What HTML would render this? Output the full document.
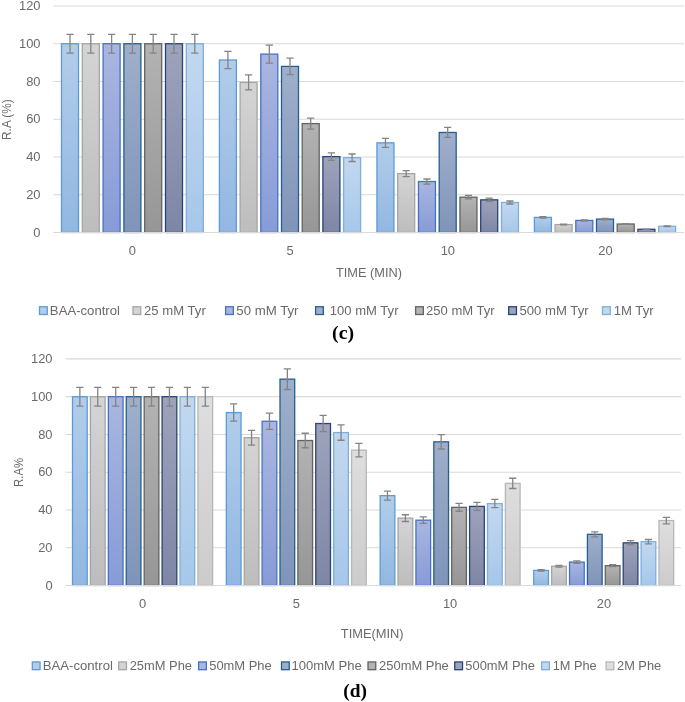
<!DOCTYPE html><html><head><meta charset="utf-8"><title>chart</title><style>html,body{margin:0;padding:0;background:#fff}svg{display:block}text{font-family:'Liberation Sans', sans-serif;fill:#6a6a6a}</style></head><body>
<svg width="685" height="702" viewBox="0 0 685 702">
<defs><filter id="sf" x="0" y="0" width="685" height="702" filterUnits="userSpaceOnUse"><feGaussianBlur stdDeviation="0.4"/></filter></defs>
<rect width="685" height="702" fill="#fff"/>
<g filter="url(#sf)">
<rect width="685" height="702" fill="#fff"/>
<defs>
<linearGradient id="ag0" x1="0" y1="0" x2="0" y2="1"><stop offset="0" stop-color="#b2cdea"/><stop offset="1" stop-color="#92b7e2"/></linearGradient>
<linearGradient id="ag1" x1="0" y1="0" x2="0" y2="1"><stop offset="0" stop-color="#d4d4d4"/><stop offset="1" stop-color="#bdbdbd"/></linearGradient>
<linearGradient id="ag2" x1="0" y1="0" x2="0" y2="1"><stop offset="0" stop-color="#aab6e0"/><stop offset="1" stop-color="#879bd7"/></linearGradient>
<linearGradient id="ag3" x1="0" y1="0" x2="0" y2="1"><stop offset="0" stop-color="#9fafcb"/><stop offset="1" stop-color="#7f94b9"/></linearGradient>
<linearGradient id="ag4" x1="0" y1="0" x2="0" y2="1"><stop offset="0" stop-color="#b3b3b3"/><stop offset="1" stop-color="#969696"/></linearGradient>
<linearGradient id="ag5" x1="0" y1="0" x2="0" y2="1"><stop offset="0" stop-color="#9ea3bb"/><stop offset="1" stop-color="#7e86a6"/></linearGradient>
<linearGradient id="ag6" x1="0" y1="0" x2="0" y2="1"><stop offset="0" stop-color="#c3d8ef"/><stop offset="1" stop-color="#a6c7ea"/></linearGradient>
</defs>
<line x1="53.5" y1="232.50" x2="684.0" y2="232.50" stroke="#d9d9d9" stroke-width="1.2"/>
<line x1="53.5" y1="194.75" x2="684.0" y2="194.75" stroke="#d9d9d9" stroke-width="1.2"/>
<line x1="53.5" y1="157.00" x2="684.0" y2="157.00" stroke="#d9d9d9" stroke-width="1.2"/>
<line x1="53.5" y1="119.25" x2="684.0" y2="119.25" stroke="#d9d9d9" stroke-width="1.2"/>
<line x1="53.5" y1="81.50" x2="684.0" y2="81.50" stroke="#d9d9d9" stroke-width="1.2"/>
<line x1="53.5" y1="43.75" x2="684.0" y2="43.75" stroke="#d9d9d9" stroke-width="1.2"/>
<line x1="53.5" y1="6.00" x2="684.0" y2="6.00" stroke="#d9d9d9" stroke-width="1.2"/>
<rect x="61.50" y="43.75" width="17.00" height="188.75" fill="url(#ag0)" stroke="#5b9bd5" stroke-width="1.3"/>
<rect x="82.30" y="43.75" width="17.00" height="188.75" fill="url(#ag1)" stroke="#a5a5a5" stroke-width="1.3"/>
<rect x="103.10" y="43.75" width="17.00" height="188.75" fill="url(#ag2)" stroke="#4472c4" stroke-width="1.3"/>
<rect x="123.90" y="43.75" width="17.00" height="188.75" fill="url(#ag3)" stroke="#255e91" stroke-width="1.3"/>
<rect x="144.70" y="43.75" width="17.00" height="188.75" fill="url(#ag4)" stroke="#636363" stroke-width="1.3"/>
<rect x="165.50" y="43.75" width="17.00" height="188.75" fill="url(#ag5)" stroke="#264478" stroke-width="1.3"/>
<rect x="186.30" y="43.75" width="17.00" height="188.75" fill="url(#ag6)" stroke="#7cafdd" stroke-width="1.3"/>
<rect x="219.40" y="59.98" width="17.00" height="172.52" fill="url(#ag0)" stroke="#5b9bd5" stroke-width="1.3"/>
<rect x="240.10" y="82.44" width="17.00" height="150.06" fill="url(#ag1)" stroke="#a5a5a5" stroke-width="1.3"/>
<rect x="260.80" y="54.13" width="17.00" height="178.37" fill="url(#ag2)" stroke="#4472c4" stroke-width="1.3"/>
<rect x="281.50" y="66.40" width="17.00" height="166.10" fill="url(#ag3)" stroke="#255e91" stroke-width="1.3"/>
<rect x="302.20" y="123.59" width="17.00" height="108.91" fill="url(#ag4)" stroke="#636363" stroke-width="1.3"/>
<rect x="322.90" y="156.62" width="17.00" height="75.88" fill="url(#ag5)" stroke="#264478" stroke-width="1.3"/>
<rect x="343.60" y="157.75" width="17.00" height="74.75" fill="url(#ag6)" stroke="#7cafdd" stroke-width="1.3"/>
<rect x="376.95" y="142.84" width="17.00" height="89.66" fill="url(#ag0)" stroke="#5b9bd5" stroke-width="1.3"/>
<rect x="397.70" y="173.61" width="17.00" height="58.89" fill="url(#ag1)" stroke="#a5a5a5" stroke-width="1.3"/>
<rect x="418.45" y="181.54" width="17.00" height="50.96" fill="url(#ag2)" stroke="#4472c4" stroke-width="1.3"/>
<rect x="439.20" y="132.46" width="17.00" height="100.04" fill="url(#ag3)" stroke="#255e91" stroke-width="1.3"/>
<rect x="459.95" y="197.20" width="17.00" height="35.30" fill="url(#ag4)" stroke="#636363" stroke-width="1.3"/>
<rect x="480.70" y="199.85" width="17.00" height="32.65" fill="url(#ag5)" stroke="#264478" stroke-width="1.3"/>
<rect x="501.45" y="202.49" width="17.00" height="30.01" fill="url(#ag6)" stroke="#7cafdd" stroke-width="1.3"/>
<rect x="534.40" y="217.40" width="17.00" height="15.10" fill="url(#ag0)" stroke="#5b9bd5" stroke-width="1.3"/>
<rect x="555.10" y="224.57" width="17.00" height="7.93" fill="url(#ag1)" stroke="#a5a5a5" stroke-width="1.3"/>
<rect x="575.80" y="220.42" width="17.00" height="12.08" fill="url(#ag2)" stroke="#4472c4" stroke-width="1.3"/>
<rect x="596.50" y="219.10" width="17.00" height="13.40" fill="url(#ag3)" stroke="#255e91" stroke-width="1.3"/>
<rect x="617.20" y="224.01" width="17.00" height="8.49" fill="url(#ag4)" stroke="#636363" stroke-width="1.3"/>
<rect x="637.90" y="229.29" width="17.00" height="3.21" fill="url(#ag5)" stroke="#264478" stroke-width="1.3"/>
<rect x="658.60" y="226.27" width="17.00" height="6.23" fill="url(#ag6)" stroke="#7cafdd" stroke-width="1.3"/>
<line x1="53.5" y1="232.50" x2="684.0" y2="232.50" stroke="#d9d9d9" stroke-width="1.2"/>
<path d="M66.40 34.31H73.60M70.00 34.31V53.19M66.40 53.19H73.60" stroke="#848484" stroke-width="1.3" fill="none"/>
<path d="M87.20 34.31H94.40M90.80 34.31V53.19M87.20 53.19H94.40" stroke="#848484" stroke-width="1.3" fill="none"/>
<path d="M108.00 34.31H115.20M111.60 34.31V53.19M108.00 53.19H115.20" stroke="#848484" stroke-width="1.3" fill="none"/>
<path d="M128.80 34.31H136.00M132.40 34.31V53.19M128.80 53.19H136.00" stroke="#848484" stroke-width="1.3" fill="none"/>
<path d="M149.60 34.31H156.80M153.20 34.31V53.19M149.60 53.19H156.80" stroke="#848484" stroke-width="1.3" fill="none"/>
<path d="M170.40 34.31H177.60M174.00 34.31V53.19M170.40 53.19H177.60" stroke="#848484" stroke-width="1.3" fill="none"/>
<path d="M191.20 34.31H198.40M194.80 34.31V53.19M191.20 53.19H198.40" stroke="#848484" stroke-width="1.3" fill="none"/>
<path d="M224.30 51.36H231.50M227.90 51.36V68.61M224.30 68.61H231.50" stroke="#848484" stroke-width="1.3" fill="none"/>
<path d="M245.00 74.94H252.20M248.60 74.94V89.95M245.00 89.95H252.20" stroke="#848484" stroke-width="1.3" fill="none"/>
<path d="M265.70 45.21H272.90M269.30 45.21V63.05M265.70 63.05H272.90" stroke="#848484" stroke-width="1.3" fill="none"/>
<path d="M286.40 58.10H293.60M290.00 58.10V74.71M286.40 74.71H293.60" stroke="#848484" stroke-width="1.3" fill="none"/>
<path d="M307.10 118.15H314.30M310.70 118.15V129.04M307.10 129.04H314.30" stroke="#848484" stroke-width="1.3" fill="none"/>
<path d="M327.80 152.83H335.00M331.40 152.83V160.42M327.80 160.42H335.00" stroke="#848484" stroke-width="1.3" fill="none"/>
<path d="M348.50 154.02H355.70M352.10 154.02V161.49M348.50 161.49H355.70" stroke="#848484" stroke-width="1.3" fill="none"/>
<path d="M381.85 138.36H389.05M385.45 138.36V147.33M381.85 147.33H389.05" stroke="#848484" stroke-width="1.3" fill="none"/>
<path d="M402.60 170.67H409.80M406.20 170.67V176.55M402.60 176.55H409.80" stroke="#848484" stroke-width="1.3" fill="none"/>
<path d="M423.35 178.99H430.55M426.95 178.99V184.09M423.35 184.09H430.55" stroke="#848484" stroke-width="1.3" fill="none"/>
<path d="M444.10 127.46H451.30M447.70 127.46V137.46M444.10 137.46H451.30" stroke="#848484" stroke-width="1.3" fill="none"/>
<path d="M464.85 195.44H472.05M468.45 195.44V198.97M464.85 198.97H472.05" stroke="#848484" stroke-width="1.3" fill="none"/>
<path d="M485.60 198.21H492.80M489.20 198.21V201.48M485.60 201.48H492.80" stroke="#848484" stroke-width="1.3" fill="none"/>
<path d="M506.35 200.99H513.55M509.95 200.99V203.99M506.35 203.99H513.55" stroke="#848484" stroke-width="1.3" fill="none"/>
<path d="M539.30 216.65H546.50M542.90 216.65V218.16M539.30 218.16H546.50" stroke="#848484" stroke-width="1.3" fill="none"/>
<path d="M560.00 224.18H567.20M563.60 224.18V224.97M560.00 224.97H567.20" stroke="#848484" stroke-width="1.3" fill="none"/>
<path d="M580.70 219.82H587.90M584.30 219.82V221.02M580.70 221.02H587.90" stroke="#848484" stroke-width="1.3" fill="none"/>
<path d="M601.40 218.43H608.60M605.00 218.43V219.77M601.40 219.77H608.60" stroke="#848484" stroke-width="1.3" fill="none"/>
<path d="M622.10 223.58H629.30M625.70 223.58V224.43M622.10 224.43H629.30" stroke="#848484" stroke-width="1.3" fill="none"/>
<path d="M642.80 229.13H650.00M646.40 229.13V229.45M642.80 229.45H650.00" stroke="#848484" stroke-width="1.3" fill="none"/>
<path d="M663.50 225.96H670.70M667.10 225.96V226.58M663.50 226.58H670.70" stroke="#848484" stroke-width="1.3" fill="none"/>
<text x="40.5" y="236.65" font-size="12.9" text-anchor="end">0</text>
<text x="40.5" y="198.90" font-size="12.9" text-anchor="end">20</text>
<text x="40.5" y="161.15" font-size="12.9" text-anchor="end">40</text>
<text x="40.5" y="123.40" font-size="12.9" text-anchor="end">60</text>
<text x="40.5" y="85.65" font-size="12.9" text-anchor="end">80</text>
<text x="40.5" y="47.90" font-size="12.9" text-anchor="end">100</text>
<text x="40.5" y="10.15" font-size="12.9" text-anchor="end">120</text>
<text x="132.3" y="254.8" font-size="12.9" text-anchor="middle">0</text>
<text x="290.0" y="254.8" font-size="12.9" text-anchor="middle">5</text>
<text x="447.8" y="254.8" font-size="12.9" text-anchor="middle">10</text>
<text x="605.4" y="254.8" font-size="12.9" text-anchor="middle">20</text>
<text x="336.0" y="276.7" font-size="12.4" text-anchor="start" textLength="66.00" lengthAdjust="spacingAndGlyphs">TIME (MIN)</text>
<text transform="translate(11.0,139.9) rotate(-90)" font-size="12.4" textLength="40.6" lengthAdjust="spacingAndGlyphs">R.A (%)</text>
<rect x="39.50" y="306.75" width="7.75" height="7.75" fill="#b2cdea" stroke="#5b9bd5" stroke-width="1.3"/>
<text x="49.88" y="314.8" font-size="12.4" text-anchor="start" textLength="70.06" lengthAdjust="spacingAndGlyphs">BAA-control</text>
<rect x="133.00" y="306.75" width="7.75" height="7.75" fill="#d4d4d4" stroke="#a5a5a5" stroke-width="1.3"/>
<text x="144.05" y="314.8" font-size="12.4" text-anchor="start" textLength="61.71" lengthAdjust="spacingAndGlyphs">25 mM Tyr</text>
<rect x="225.60" y="306.75" width="7.75" height="7.75" fill="#aab6e0" stroke="#4472c4" stroke-width="1.3"/>
<text x="236.27" y="314.8" font-size="12.4" text-anchor="start" textLength="62.27" lengthAdjust="spacingAndGlyphs">50 mM Tyr</text>
<rect x="315.60" y="306.75" width="7.75" height="7.75" fill="#9fafcb" stroke="#255e91" stroke-width="1.3"/>
<text x="329.81" y="314.8" font-size="12.4" text-anchor="start" textLength="68.69" lengthAdjust="spacingAndGlyphs">100 mM Tyr</text>
<rect x="415.60" y="306.75" width="7.75" height="7.75" fill="#b3b3b3" stroke="#636363" stroke-width="1.3"/>
<text x="426.01" y="314.8" font-size="12.4" text-anchor="start" textLength="68.67" lengthAdjust="spacingAndGlyphs">250 mM Tyr</text>
<rect x="508.70" y="306.75" width="7.75" height="7.75" fill="#9ea3bb" stroke="#264478" stroke-width="1.3"/>
<text x="519.44" y="314.8" font-size="12.4" text-anchor="start" textLength="69.19" lengthAdjust="spacingAndGlyphs">500 mM Tyr</text>
<rect x="602.50" y="306.75" width="7.75" height="7.75" fill="#c3d8ef" stroke="#7cafdd" stroke-width="1.3"/>
<text x="613.67" y="314.8" font-size="12.4" text-anchor="start" textLength="39.94" lengthAdjust="spacingAndGlyphs">1M Tyr</text>
<text x="343.1" y="339.3" text-anchor="middle" font-size="19.8" font-weight="bold" style="font-family:'Liberation Serif',serif;fill:#000">(c)</text>
<defs>
<linearGradient id="bg0" x1="0" y1="0" x2="0" y2="1"><stop offset="0" stop-color="#b2cdea"/><stop offset="1" stop-color="#92b7e2"/></linearGradient>
<linearGradient id="bg1" x1="0" y1="0" x2="0" y2="1"><stop offset="0" stop-color="#d4d4d4"/><stop offset="1" stop-color="#bdbdbd"/></linearGradient>
<linearGradient id="bg2" x1="0" y1="0" x2="0" y2="1"><stop offset="0" stop-color="#aab6e0"/><stop offset="1" stop-color="#879bd7"/></linearGradient>
<linearGradient id="bg3" x1="0" y1="0" x2="0" y2="1"><stop offset="0" stop-color="#9fafcb"/><stop offset="1" stop-color="#7f94b9"/></linearGradient>
<linearGradient id="bg4" x1="0" y1="0" x2="0" y2="1"><stop offset="0" stop-color="#b3b3b3"/><stop offset="1" stop-color="#969696"/></linearGradient>
<linearGradient id="bg5" x1="0" y1="0" x2="0" y2="1"><stop offset="0" stop-color="#9ea3bb"/><stop offset="1" stop-color="#7e86a6"/></linearGradient>
<linearGradient id="bg6" x1="0" y1="0" x2="0" y2="1"><stop offset="0" stop-color="#c3d8ef"/><stop offset="1" stop-color="#a6c7ea"/></linearGradient>
<linearGradient id="bg7" x1="0" y1="0" x2="0" y2="1"><stop offset="0" stop-color="#dedede"/><stop offset="1" stop-color="#cccccc"/></linearGradient>
</defs>
<line x1="65.6" y1="585.50" x2="681.0" y2="585.50" stroke="#d9d9d9" stroke-width="1.2"/>
<line x1="65.6" y1="547.74" x2="681.0" y2="547.74" stroke="#d9d9d9" stroke-width="1.2"/>
<line x1="65.6" y1="509.99" x2="681.0" y2="509.99" stroke="#d9d9d9" stroke-width="1.2"/>
<line x1="65.6" y1="472.23" x2="681.0" y2="472.23" stroke="#d9d9d9" stroke-width="1.2"/>
<line x1="65.6" y1="434.48" x2="681.0" y2="434.48" stroke="#d9d9d9" stroke-width="1.2"/>
<line x1="65.6" y1="396.72" x2="681.0" y2="396.72" stroke="#d9d9d9" stroke-width="1.2"/>
<line x1="65.6" y1="358.96" x2="681.0" y2="358.96" stroke="#d9d9d9" stroke-width="1.2"/>
<rect x="72.50" y="396.72" width="14.70" height="188.78" fill="url(#bg0)" stroke="#5b9bd5" stroke-width="1.3"/>
<rect x="90.42" y="396.72" width="14.70" height="188.78" fill="url(#bg1)" stroke="#a5a5a5" stroke-width="1.3"/>
<rect x="108.34" y="396.72" width="14.70" height="188.78" fill="url(#bg2)" stroke="#4472c4" stroke-width="1.3"/>
<rect x="126.26" y="396.72" width="14.70" height="188.78" fill="url(#bg3)" stroke="#255e91" stroke-width="1.3"/>
<rect x="144.18" y="396.72" width="14.70" height="188.78" fill="url(#bg4)" stroke="#636363" stroke-width="1.3"/>
<rect x="162.10" y="396.72" width="14.70" height="188.78" fill="url(#bg5)" stroke="#264478" stroke-width="1.3"/>
<rect x="180.02" y="396.72" width="14.70" height="188.78" fill="url(#bg6)" stroke="#7cafdd" stroke-width="1.3"/>
<rect x="197.94" y="396.72" width="14.70" height="188.78" fill="url(#bg7)" stroke="#b7b7b7" stroke-width="1.3"/>
<rect x="226.33" y="412.58" width="14.70" height="172.92" fill="url(#bg0)" stroke="#5b9bd5" stroke-width="1.3"/>
<rect x="244.22" y="437.69" width="14.70" height="147.81" fill="url(#bg1)" stroke="#a5a5a5" stroke-width="1.3"/>
<rect x="262.11" y="421.26" width="14.70" height="164.24" fill="url(#bg2)" stroke="#4472c4" stroke-width="1.3"/>
<rect x="280.00" y="379.16" width="14.70" height="206.34" fill="url(#bg3)" stroke="#255e91" stroke-width="1.3"/>
<rect x="297.89" y="440.52" width="14.70" height="144.98" fill="url(#bg4)" stroke="#636363" stroke-width="1.3"/>
<rect x="315.78" y="423.53" width="14.70" height="161.97" fill="url(#bg5)" stroke="#264478" stroke-width="1.3"/>
<rect x="333.67" y="432.59" width="14.70" height="152.91" fill="url(#bg6)" stroke="#7cafdd" stroke-width="1.3"/>
<rect x="351.56" y="450.14" width="14.70" height="135.36" fill="url(#bg7)" stroke="#b7b7b7" stroke-width="1.3"/>
<rect x="380.15" y="495.64" width="14.70" height="89.86" fill="url(#bg0)" stroke="#5b9bd5" stroke-width="1.3"/>
<rect x="398.04" y="518.11" width="14.70" height="67.39" fill="url(#bg1)" stroke="#a5a5a5" stroke-width="1.3"/>
<rect x="415.93" y="520.18" width="14.70" height="65.32" fill="url(#bg2)" stroke="#4472c4" stroke-width="1.3"/>
<rect x="433.82" y="441.84" width="14.70" height="143.66" fill="url(#bg3)" stroke="#255e91" stroke-width="1.3"/>
<rect x="451.71" y="507.35" width="14.70" height="78.15" fill="url(#bg4)" stroke="#636363" stroke-width="1.3"/>
<rect x="469.60" y="506.40" width="14.70" height="79.10" fill="url(#bg5)" stroke="#264478" stroke-width="1.3"/>
<rect x="487.49" y="503.57" width="14.70" height="81.93" fill="url(#bg6)" stroke="#7cafdd" stroke-width="1.3"/>
<rect x="505.38" y="483.37" width="14.70" height="102.13" fill="url(#bg7)" stroke="#b7b7b7" stroke-width="1.3"/>
<rect x="533.75" y="570.40" width="14.70" height="15.10" fill="url(#bg0)" stroke="#5b9bd5" stroke-width="1.3"/>
<rect x="551.64" y="566.24" width="14.70" height="19.26" fill="url(#bg1)" stroke="#a5a5a5" stroke-width="1.3"/>
<rect x="569.53" y="562.09" width="14.70" height="23.41" fill="url(#bg2)" stroke="#4472c4" stroke-width="1.3"/>
<rect x="587.42" y="534.34" width="14.70" height="51.16" fill="url(#bg3)" stroke="#255e91" stroke-width="1.3"/>
<rect x="605.31" y="565.68" width="14.70" height="19.82" fill="url(#bg4)" stroke="#636363" stroke-width="1.3"/>
<rect x="623.20" y="542.84" width="14.70" height="42.66" fill="url(#bg5)" stroke="#264478" stroke-width="1.3"/>
<rect x="641.09" y="541.70" width="14.70" height="43.80" fill="url(#bg6)" stroke="#7cafdd" stroke-width="1.3"/>
<rect x="658.98" y="520.56" width="14.70" height="64.94" fill="url(#bg7)" stroke="#b7b7b7" stroke-width="1.3"/>
<line x1="65.6" y1="585.50" x2="681.0" y2="585.50" stroke="#d9d9d9" stroke-width="1.2"/>
<path d="M76.25 387.28H83.45M79.85 387.28V406.16M76.25 406.16H83.45" stroke="#848484" stroke-width="1.3" fill="none"/>
<path d="M94.17 387.28H101.37M97.77 387.28V406.16M94.17 406.16H101.37" stroke="#848484" stroke-width="1.3" fill="none"/>
<path d="M112.09 387.28H119.29M115.69 387.28V406.16M112.09 406.16H119.29" stroke="#848484" stroke-width="1.3" fill="none"/>
<path d="M130.01 387.28H137.21M133.61 387.28V406.16M130.01 406.16H137.21" stroke="#848484" stroke-width="1.3" fill="none"/>
<path d="M147.93 387.28H155.13M151.53 387.28V406.16M147.93 406.16H155.13" stroke="#848484" stroke-width="1.3" fill="none"/>
<path d="M165.85 387.28H173.05M169.45 387.28V406.16M165.85 406.16H173.05" stroke="#848484" stroke-width="1.3" fill="none"/>
<path d="M183.77 387.28H190.97M187.37 387.28V406.16M183.77 406.16H190.97" stroke="#848484" stroke-width="1.3" fill="none"/>
<path d="M201.69 387.28H208.89M205.29 387.28V406.16M201.69 406.16H208.89" stroke="#848484" stroke-width="1.3" fill="none"/>
<path d="M230.08 403.93H237.28M233.68 403.93V421.22M230.08 421.22H237.28" stroke="#848484" stroke-width="1.3" fill="none"/>
<path d="M247.97 430.29H255.17M251.57 430.29V445.08M247.97 445.08H255.17" stroke="#848484" stroke-width="1.3" fill="none"/>
<path d="M265.86 413.05H273.06M269.46 413.05V429.47M265.86 429.47H273.06" stroke="#848484" stroke-width="1.3" fill="none"/>
<path d="M283.75 368.85H290.95M287.35 368.85V389.48M283.75 389.48H290.95" stroke="#848484" stroke-width="1.3" fill="none"/>
<path d="M301.64 433.27H308.84M305.24 433.27V447.77M301.64 447.77H308.84" stroke="#848484" stroke-width="1.3" fill="none"/>
<path d="M319.53 415.43H326.73M323.13 415.43V431.63M319.53 431.63H326.73" stroke="#848484" stroke-width="1.3" fill="none"/>
<path d="M337.42 424.94H344.62M341.02 424.94V440.23M337.42 440.23H344.62" stroke="#848484" stroke-width="1.3" fill="none"/>
<path d="M355.31 443.38H362.51M358.91 443.38V456.91M355.31 456.91H362.51" stroke="#848484" stroke-width="1.3" fill="none"/>
<path d="M383.90 491.15H391.10M387.50 491.15V500.13M383.90 500.13H391.10" stroke="#848484" stroke-width="1.3" fill="none"/>
<path d="M401.79 514.74H408.99M405.39 514.74V521.48M401.79 521.48H408.99" stroke="#848484" stroke-width="1.3" fill="none"/>
<path d="M419.68 516.92H426.88M423.28 516.92V523.45M419.68 523.45H426.88" stroke="#848484" stroke-width="1.3" fill="none"/>
<path d="M437.57 434.66H444.77M441.17 434.66V449.02M437.57 449.02H444.77" stroke="#848484" stroke-width="1.3" fill="none"/>
<path d="M455.46 503.44H462.66M459.06 503.44V511.25M455.46 511.25H462.66" stroke="#848484" stroke-width="1.3" fill="none"/>
<path d="M473.35 502.45H480.55M476.95 502.45V510.36M473.35 510.36H480.55" stroke="#848484" stroke-width="1.3" fill="none"/>
<path d="M491.24 499.47H498.44M494.84 499.47V507.67M491.24 507.67H498.44" stroke="#848484" stroke-width="1.3" fill="none"/>
<path d="M509.13 478.26H516.33M512.73 478.26V488.48M509.13 488.48H516.33" stroke="#848484" stroke-width="1.3" fill="none"/>
<path d="M537.50 569.64H544.70M541.10 569.64V571.15M537.50 571.15H544.70" stroke="#848484" stroke-width="1.3" fill="none"/>
<path d="M555.39 565.28H562.59M558.99 565.28V567.21M555.39 567.21H562.59" stroke="#848484" stroke-width="1.3" fill="none"/>
<path d="M573.28 560.92H580.48M576.88 560.92V563.26M573.28 563.26H580.48" stroke="#848484" stroke-width="1.3" fill="none"/>
<path d="M591.17 531.78H598.37M594.77 531.78V536.90M591.17 536.90H598.37" stroke="#848484" stroke-width="1.3" fill="none"/>
<path d="M609.06 564.69H616.26M612.66 564.69V566.67M609.06 566.67H616.26" stroke="#848484" stroke-width="1.3" fill="none"/>
<path d="M626.95 540.70H634.15M630.55 540.70V544.97M626.95 544.97H634.15" stroke="#848484" stroke-width="1.3" fill="none"/>
<path d="M644.84 539.51H652.04M648.44 539.51V543.89M644.84 543.89H652.04" stroke="#848484" stroke-width="1.3" fill="none"/>
<path d="M662.73 517.31H669.93M666.33 517.31V523.81M662.73 523.81H669.93" stroke="#848484" stroke-width="1.3" fill="none"/>
<text x="52.55" y="589.65" font-size="12.9" text-anchor="end">0</text>
<text x="52.55" y="551.89" font-size="12.9" text-anchor="end">20</text>
<text x="52.55" y="514.14" font-size="12.9" text-anchor="end">40</text>
<text x="52.55" y="476.38" font-size="12.9" text-anchor="end">60</text>
<text x="52.55" y="438.63" font-size="12.9" text-anchor="end">80</text>
<text x="52.55" y="400.87" font-size="12.9" text-anchor="end">100</text>
<text x="52.55" y="363.11" font-size="12.9" text-anchor="end">120</text>
<text x="142.5" y="608.2" font-size="12.9" text-anchor="middle">0</text>
<text x="296.3" y="608.2" font-size="12.9" text-anchor="middle">5</text>
<text x="450.1" y="608.2" font-size="12.9" text-anchor="middle">10</text>
<text x="603.9" y="608.2" font-size="12.9" text-anchor="middle">20</text>
<text x="340.8" y="637.8" font-size="12.4" text-anchor="start" textLength="62.80" lengthAdjust="spacingAndGlyphs">TIME(MIN)</text>
<text transform="translate(23.0,486.9) rotate(-90)" font-size="12.4" textLength="29.0" lengthAdjust="spacingAndGlyphs">R.A%</text>
<rect x="32.30" y="661.95" width="7.75" height="7.75" fill="#b2cdea" stroke="#5b9bd5" stroke-width="1.3"/>
<text x="42.71" y="669.9" font-size="12.4" text-anchor="start" textLength="70.19" lengthAdjust="spacingAndGlyphs">BAA-control</text>
<rect x="118.70" y="661.95" width="7.75" height="7.75" fill="#d4d4d4" stroke="#a5a5a5" stroke-width="1.3"/>
<text x="129.69" y="669.9" font-size="12.4" text-anchor="start" textLength="62.30" lengthAdjust="spacingAndGlyphs">25mM Phe</text>
<rect x="198.60" y="661.95" width="7.75" height="7.75" fill="#aab6e0" stroke="#4472c4" stroke-width="1.3"/>
<text x="209.22" y="669.9" font-size="12.4" text-anchor="start" textLength="62.53" lengthAdjust="spacingAndGlyphs">50mM Phe</text>
<rect x="281.50" y="661.95" width="7.75" height="7.75" fill="#9fafcb" stroke="#255e91" stroke-width="1.3"/>
<text x="291.47" y="669.9" font-size="12.4" text-anchor="start" textLength="70.39" lengthAdjust="spacingAndGlyphs">100mM Phe</text>
<rect x="368.00" y="661.95" width="7.75" height="7.75" fill="#b3b3b3" stroke="#636363" stroke-width="1.3"/>
<text x="379.07" y="669.9" font-size="12.4" text-anchor="start" textLength="69.76" lengthAdjust="spacingAndGlyphs">250mM Phe</text>
<rect x="454.75" y="661.95" width="7.75" height="7.75" fill="#9ea3bb" stroke="#264478" stroke-width="1.3"/>
<text x="465.29" y="669.9" font-size="12.4" text-anchor="start" textLength="69.64" lengthAdjust="spacingAndGlyphs">500mM Phe</text>
<rect x="541.65" y="661.95" width="7.75" height="7.75" fill="#c3d8ef" stroke="#7cafdd" stroke-width="1.3"/>
<text x="552.70" y="669.9" font-size="12.4" text-anchor="start" textLength="43.88" lengthAdjust="spacingAndGlyphs">1M Phe</text>
<rect x="606.10" y="661.95" width="7.75" height="7.75" fill="#dedede" stroke="#b7b7b7" stroke-width="1.3"/>
<text x="617.01" y="669.9" font-size="12.4" text-anchor="start" textLength="44.16" lengthAdjust="spacingAndGlyphs">2M Phe</text>
<text x="355.2" y="696.7" text-anchor="middle" font-size="19.4" font-weight="bold" style="font-family:'Liberation Serif',serif;fill:#000">(d)</text>
</g></svg></body></html>
